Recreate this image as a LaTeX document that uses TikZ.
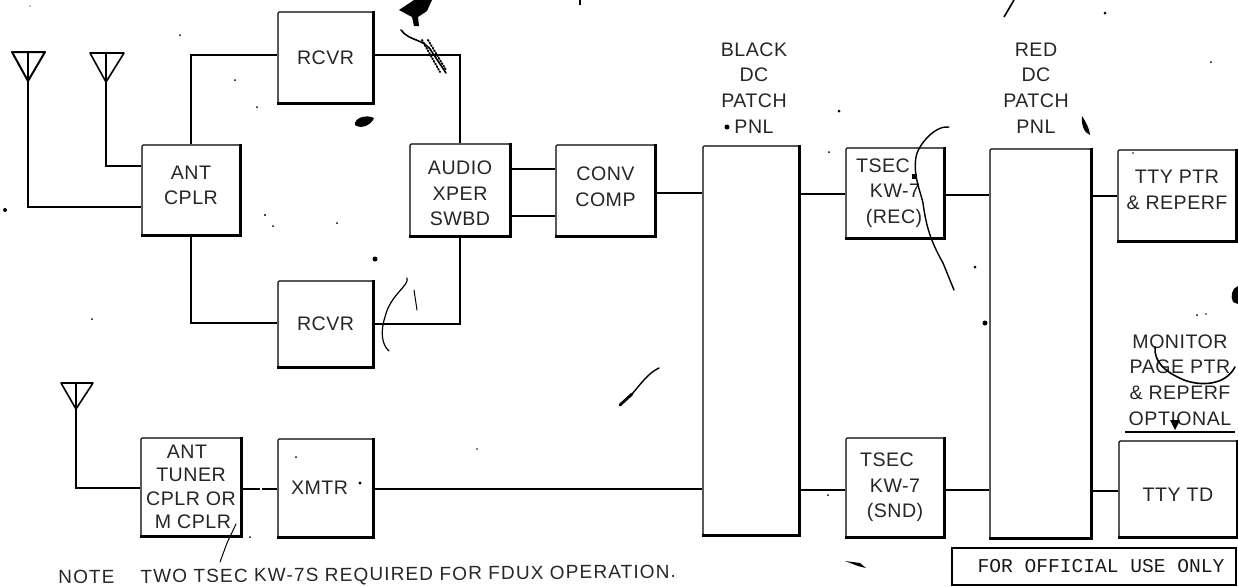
\documentclass[tikz,border=0pt]{standalone}
\usepackage{fontspec}
\setmainfont[LetterSpace=2.5]{Liberation Sans}
\newfontfamily\officialfont{Liberation Mono}
\newfontfamily\notefont[LetterSpace=6]{Liberation Sans}
\newcommand{\mybox}[6]{%
  \node[blockbox,minimum width={(#4-#2)*0.5pt},minimum height={(#5-#3)*0.5pt}] (#1) at ({(#2+#4)/2},{(#3+#5)/2}) {#6};
  \draw[shadowline] (#1.south west) -- (#1.south east) -- (#1.north east);
}
\newcommand{\upby}[1]{\rule[-#1pt]{0pt}{0pt}}
\newcommand{\downby}[1]{\rule{0pt}{\dimexpr 7.5pt+#1pt\relax}}
\tikzset{
  blockbox/.style={draw,line width=0.55pt,rounded corners=0.6pt,inner sep=0pt,align=center,fill=white,text=black!85,
    font=\fontsize{9.8}{12.75}\selectfont},
  shadowline/.style={line width=1.5pt,black},
  wire/.style={line width=0.55pt},
  labeltext/.style={inner sep=0pt,align=center,text=black!85,font=\fontsize{9.8}{12.9}\selectfont},
  scratch/.style={line width=0.5pt,line cap=round},
  speck/.style={fill=black,draw=none},
}
\begin{document}
\begin{tikzpicture}[x=0.5pt,y=-0.5pt]
\useasboundingbox (0,0) rectangle (1238,586);
% blocks
\mybox{rca}{278}{12}{373}{103}{RCVR}
\mybox{rcb}{278}{281}{373}{367}{RCVR}
\mybox{ant}{142}{145}{240}{235}{ANT\\CPLR\upby{5}}
\mybox{aud}{410}{144}{510}{236}{\downby{3}AUDIO\\XPER\\SWBD}
\mybox{conv}{556}{145}{655}{236}{CONV\\COMP\upby{4}}
\mybox{blk}{703}{146}{799}{535}{}
\mybox{red}{990}{149}{1091}{538}{}
\mybox{tsr}{846}{148}{944}{238}{TSEC\hspace*{12pt}\\KW-7\hspace*{4pt}\\(REC)\hspace*{1pt}}
\mybox{tss}{846}{438}{944}{537}{TSEC\hspace*{8pt}\\KW-7\hspace*{1pt}\\(SND)}
\mybox{tty}{1118}{150}{1236}{241}{TTY PTR\\\& REPERF\upby{6}}
\mybox{ttd}{1119}{441}{1237}{537}{\downby{5}TTY TD}
\mybox{tun}{141}{438}{241}{536}{ANT\hspace*{4pt}\\[-1pt]TUNER\hspace*{14pt}\\[-1pt]CPLR OR\\[-1pt]M CPLR\hspace*{-2pt}}
\mybox{xmt}{278}{439}{373}{537}{XMTR\hspace*{6pt}}
% antennas
\coordinate (apa) at (28,81);
\coordinate (apb) at (106,82);
\coordinate (apc) at (76,409);
\draw[line width=1pt,line join=round] (12,52) -- (45,52) -- (apa) -- cycle;
\draw[line width=0.8pt,line join=round] (90,53) -- (124,53) -- (apb) -- cycle;
\draw[line width=0.8pt,line join=round] (61,383) -- (93,383) -- (apc) -- cycle;
\draw[wire] (28,52) -- (apa);
\draw[wire] (106,53) -- (apb);
\draw[wire] (76,383) -- (apc);
% connectors
\draw[wire] (apa) |- (ant.west |- 0,207);
\draw[wire] (apb) |- (ant.west |- 0,166);
\draw[wire] (apc) |- (tun.west |- 0,488);
\draw[wire] (ant.north) -- (ant.north |- 0,55) -- (rca.west |- 0,55);
\draw[line width=0.9pt] (rca.east |- 0,55) -- (aud.north |- 0,55) -- (aud.north);
\draw[wire] (ant.south) -- (ant.south |- 0,323) -- (rcb.west |- 0,323);
\draw[wire] (rcb.east |- 0,324) -- (aud.south |- 0,324) -- (aud.south);
\draw[wire] (aud.east |- 0,169) -- (conv.west |- 0,169);
\draw[wire] (aud.east |- 0,216) -- (conv.west |- 0,216);
\draw[wire] (conv.east |- 0,193) -- (blk.west |- 0,193);
\draw[wire] (blk.east |- 0,194) -- (tsr.west |- 0,194);
\draw[wire] (tsr.east |- 0,195) -- (red.west |- 0,195);
\draw[line width=0.9pt] (red.east |- 0,196) -- (tty.west |- 0,196);
\draw[wire,dash pattern=on 9pt off 1pt] (tun.east |- 0,489) -- (xmt.west |- 0,489);
\draw[wire] (xmt.east |- 0,489) -- (blk.west |- 0,489);
\draw[wire] (blk.east |- 0,490) -- (tss.west |- 0,490);
\draw[wire] (tss.east |- 0,490) -- (red.west |- 0,490);
\draw[line width=0.9pt] (red.east |- 0,491) -- (ttd.west |- 0,491);
% labels
\node[labeltext] (lblack) at (754,88) {BLACK\\DC\\PATCH\\PNL};
\node[labeltext] (lred) at (1036,88) {RED\\DC\\PATCH\\PNL};
\node[labeltext] (lmon) at (1180,380) {MONITOR\\PAGE PTR\\\& REPERF\\OPTIONAL};
\coordinate (ula) at (1125,432);
\coordinate (ulb) at (1235,432);
\draw[line width=0.7pt] (ula) -- (ulb);
\node[draw,line width=0.9pt,inner sep=0pt,minimum width=142pt,minimum height=18.5pt,
  font=\officialfont\fontsize{9.8}{12}\selectfont,text=black!90] (off) at (1094,566.5) {\hspace*{7pt}FOR OFFICIAL USE ONLY};
\node[inner sep=0pt,rotate=0.55,anchor=west,text=black!85,font=\notefont\fontsize{9.5}{12}\selectfont] (note) at (58,579)
  {NOTE\hspace{13pt}TWO TSEC KW-7S REQUIRED FOR FDUX OPERATION.};
% scratches and stains
\fill (399,10) -- (414,0) -- (432,0) -- (427,11) -- (418,17) -- (419,26) -- (414,26) -- (412,17) -- cycle;
\draw[scratch,line width=0.8pt] (401,30) .. controls (410,42) and (424,38) .. (432,52) -- (446,73);
\draw[scratch,densely dotted,line width=1pt] (422,40) -- (440,72);
\draw[scratch,densely dotted,line width=1pt] (428,40) -- (446,70);
\fill (355,125) .. controls (354,118) and (366,114) .. (374,118) .. controls (372,124) and (362,130) .. (355,125) -- cycle;
\draw[line width=1pt] (580,0) -- (580,5);
\draw[line width=0.8pt] (1014,0) -- (1004,17);
\draw[scratch,line width=0.7pt] (949,127) .. controls (935,125) and (918,145) .. (916,157) .. controls (913,175) and (920,190) .. (923,203) .. controls (926,225) and (930,240) .. (943,263) -- (954,290);
\fill (912,174) rectangle (917,179);
\draw[scratch,line width=0.6pt] (407,278) .. controls (410,285) and (390,295) .. (385,317) .. controls (380,332) and (382,345) .. (389,351);
\draw[scratch] (414,290) -- (417,310);
\draw[scratch,line width=0.7pt] (659,368) .. controls (648,373) and (640,385) .. (632,394);
\draw[line width=1.4pt,line cap=round] (632,394) -- (620,405);
\draw[scratch] (236,524) -- (227,543) -- (220,562);
\draw[scratch,line width=0.8pt] (1155,347) .. controls (1154,362) and (1165,372) .. (1184,380) .. controls (1200,386) and (1225,386) .. (1235,367);
\fill (1170,420) -- (1180,420) -- (1175,430) -- cycle;
\fill (1082,116) .. controls (1086,122) and (1090,130) .. (1090,135) .. controls (1084,133) and (1081,124) .. (1082,116) -- cycle;
\fill (1238,286) .. controls (1232,288) and (1230,296) .. (1233,302) -- (1238,304) -- cycle;
\fill (845,561) -- (860,563) -- (866,568) -- (858,566) -- cycle;
\foreach \px/\py/\pr in {727/127/2.5,839/111/1.5,985/323/2.5,975/267/1.5,829/152/1,1105/13/1.5,1211/62/1,5/210/2,235/80/1,257/107/1,265/215/1.2,273/226/1,337/223/1,92/319/1,180/35/1,250/537/1,360/483/1.6,296/457/1,477/449/.8,828/495/1,375/259/2.5,1133/153/.8,1197/315/1,1206/314/.8,30/6/.6}
  \fill (\px,\py) circle ({\pr*0.5pt});
\end{tikzpicture}
\end{document}
